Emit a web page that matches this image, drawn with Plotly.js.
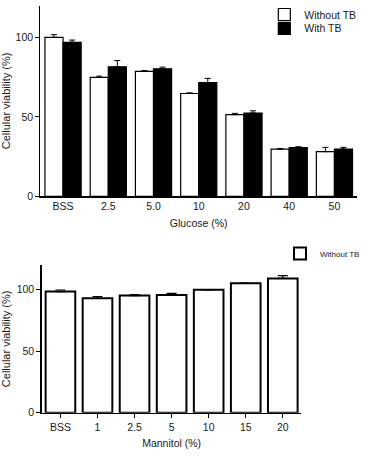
<!DOCTYPE html>
<html>
<head>
<meta charset="utf-8">
<script src="https://cdn.plot.ly/plotly-3.0.1.min.js"></script>
<style>html,body{margin:0;padding:0;background:#fff;}#chart{width:365px;height:460px;}</style>
</head>
<body>
<div id="chart"></div>
<script>
// Top chart: Glucose
const glucoseCats = ["BSS", "2.5", "5.0", "10", "20", "40", "50"];
const glucoseWithout = [100, 74.8, 78.6, 64.7, 51.4, 29.7, 28.1];
const glucoseWithoutErr = [1.7, 0.8, 0.5, 0.4, 0.8, 0.4, 2.7];
const glucoseWith = [96.9, 81.5, 80.2, 71.5, 52.4, 30.6, 29.7];
const glucoseWithErr = [1.4, 3.9, 1.1, 2.7, 1.4, 0.6, 1.1];

// Bottom chart: Mannitol
const mannitolCats = ["BSS", "1", "2.5", "5", "10", "15", "20"];
const mannitolWithout = [98.4, 93.0, 95.2, 95.7, 99.8, 105.1, 109.1];
const mannitolWithoutErr = [1.3, 1.4, 0.8, 1.3, 0.3, 0.3, 2.2];

const yTicks = [0, 50, 100];

const W = 365, H = 460;
const px = v => v / W;
const py = v => 1 - v / H;

const idxG = glucoseCats.map((c, i) => i);
const idxM = mannitolCats.map((c, i) => i);
const zeros = n => new Array(n).fill(0);

const font = "Liberation Sans, Arial, sans-serif";
const tc = "#1a1a1a";

const traces = [
  {
    type: "bar", name: "Without TB", x: idxG, y: glucoseWithout,
    xaxis: "x", yaxis: "y", legend: "legend",
    marker: {color: "#ffffff", line: {color: "#000", width: 1.2}},
    error_y: {type: "data", array: glucoseWithoutErr, arrayminus: zeros(7), symmetric: false, color: "#000", thickness: 1, width: 3},
    hoverinfo: "skip"
  },
  {
    type: "bar", name: "With TB", x: idxG, y: glucoseWith,
    xaxis: "x", yaxis: "y", legend: "legend3",
    marker: {color: "#000000", line: {color: "#000", width: 1.2}},
    error_y: {type: "data", array: glucoseWithErr, arrayminus: zeros(7), symmetric: false, color: "#000", thickness: 1, width: 3},
    hoverinfo: "skip"
  },
  {
    type: "bar", name: "Without TB", x: idxM, y: mannitolWithout,
    xaxis: "x2", yaxis: "y2", legend: "legend2",
    marker: {color: "#ffffff", line: {color: "#000", width: 2}},
    error_y: {type: "data", array: mannitolWithoutErr, arrayminus: zeros(7), symmetric: false, color: "#000", thickness: 1.2, width: 5},
    hoverinfo: "skip"
  }
];

// bar-centre tick positions for the grouped top chart
const barOff = 0.2;
const topTickVals = [];
idxG.forEach(i => { topTickVals.push(i - barOff); topTickVals.push(i + barOff); });

const axCommon = {
  showgrid: false, zeroline: false, showline: true, linecolor: "#000", linewidth: 1.2,
  tickcolor: "#000", tickwidth: 1, ticklen: 4, ticks: "outside",
  tickfont: {family: font, size: 10.5, color: tc}, fixedrange: true
};

const layout = {
  width: W, height: H,
  margin: {l: 0, r: 0, t: 0, b: 0},
  paper_bgcolor: "#fff", plot_bgcolor: "#fff",
  font: {family: font, size: 10, color: tc},
  barmode: "group", bargap: 0.2, bargroupgap: 0,
  xaxis: Object.assign({}, axCommon, {
    domain: [px(41), px(362)], anchor: "y", range: [-0.5, 6.5],
    tickmode: "array", tickvals: idxG, ticktext: glucoseCats, ticks: "",
    title: {text: "Glucose (%)", font: {family: font, size: 10.5, color: tc}, standoff: 8}
  }),
  xaxis3: {
    overlaying: "x", anchor: "y", range: [-0.5, 6.5], domain: [px(41), px(362)],
    showgrid: false, zeroline: false, showline: false,
    tickmode: "array", tickvals: topTickVals, ticks: "outside", ticklen: 4,
    tickcolor: "#000", tickwidth: 1, showticklabels: false, fixedrange: true
  },
  yaxis: Object.assign({}, axCommon, {
    domain: [py(194), py(1.6)], anchor: "x", range: [0, 120],
    tickmode: "array", tickvals: yTicks,
    title: {text: "Cellular viability (%)", font: {family: font, size: 11, color: tc}, standoff: 6}
  }),
  xaxis2: Object.assign({}, axCommon, {
    domain: [px(42.5), px(305.5)], anchor: "y2", range: [-0.5, 6.5], linewidth: 1.6,
    tickmode: "array", tickvals: idxM, ticktext: mannitolCats,
    tickfont: {family: font, size: 10.5, color: tc},
    title: {text: "Mannitol (%)", font: {family: font, size: 10.5, color: tc}, standoff: 8}
  }),
  yaxis2: Object.assign({}, axCommon, {
    domain: [py(412.3), py(263.3)], anchor: "x2", range: [0, 120], linewidth: 1.6,
    tickmode: "array", tickvals: yTicks,
    tickfont: {family: font, size: 10.5, color: tc},
    title: {text: "Cellular viability (%)", font: {family: font, size: 11, color: tc}, standoff: 6}
  }),
  legend: {x: px(268), y: py(10.5), xanchor: "left", yanchor: "middle", bgcolor: "rgba(0,0,0,0)",
           font: {family: font, size: 10.5, color: tc}},
  legend3: {x: px(268), y: py(24.5), xanchor: "left", yanchor: "middle", bgcolor: "rgba(0,0,0,0)",
           font: {family: font, size: 10.5, color: tc}},
  legend2: {x: px(284), y: py(251.7), xanchor: "left", yanchor: "middle", bgcolor: "rgba(0,0,0,0)",
           font: {family: font, size: 8, color: tc}},
  showlegend: true
};

Plotly.newPlot("chart", traces, layout, {displayModeBar: false, staticPlot: true});
</script>
</body>
</html>
